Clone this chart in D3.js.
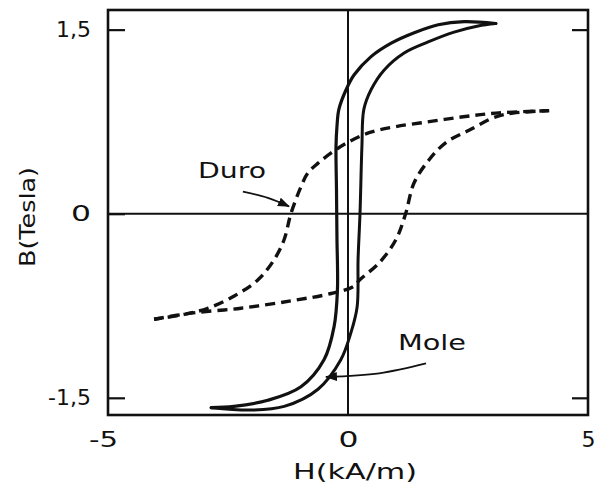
<!DOCTYPE html>
<html>
<head>
<meta charset="utf-8">
<script src="https://cdn.jsdelivr.net/npm/d3@7"></script>
<style>
  html, body { margin: 0; padding: 0; background: #fff; }
  svg { display: block; }
  text { font-family: "DejaVu Sans", sans-serif; fill: #111; }
</style>
</head>
<body>
<script>
// Hysteresis loops of a soft ("Mole") and a hard ("Duro") magnetic material.
// H in kA/m, B in tesla.

const xTicks = [-5, 0, 5];
const xTickLabels = ["-5", "0", "5"];
const yTicks = [-1.5, 0, 1.5];
const yTickLabels = ["-1,5", "0", "1,5"];

// Soft material: descending branch (from +saturation down to -saturation)
const moleDownH = [3.08, 2.42, 1.88, 1.38, 0.90, 0.48, 0.125, -0.04, -0.19, -0.23, -0.25, -0.24, -0.23, -0.22, -0.29, -0.50, -0.98, -1.67, -2.375, -2.85];
const moleDownB = [1.55, 1.565, 1.54, 1.475, 1.39, 1.28, 1.13, 1.01, 0.85, 0.71, 0.55, 0.20, -0.20, -0.62, -0.92, -1.19, -1.41, -1.52, -1.57, -1.58];
// Soft material: ascending branch (from -saturation back up to +saturation)
const moleUpH = [-2.85, -2.02, -1.33, -0.625, -0.15, 0.06, 0.19, 0.21, 0.25, 0.29, 0.33, 0.48, 0.75, 1.17, 1.67, 2.21, 2.71, 3.08];
const moleUpB = [-1.58, -1.60, -1.57, -1.43, -1.19, -0.97, -0.76, -0.37, 0.0, 0.55, 0.85, 1.01, 1.17, 1.31, 1.40, 1.48, 1.53, 1.55];

// Hard material: descending branch
const duroDownH = [4.19, 3.08, 2.40, 1.69, 1.00, 0.44, -0.01, -0.35, -0.63, -0.84, -0.98, -1.19, -1.33, -1.54, -1.88, -2.37, -2.92, -3.41, -4.04];
const duroDownB = [0.84, 0.82, 0.79, 0.75, 0.71, 0.66, 0.58, 0.495, 0.41, 0.33, 0.22, 0.0, -0.21, -0.375, -0.54, -0.67, -0.77, -0.82, -0.86];
// Hard material: ascending branch
const duroUpH = [-4.04, -3.27, -2.23, -1.19, -0.35, 0.125, 0.24, 0.65, 1.00, 1.20, 1.375, 1.69, 2.04, 2.52, 3.08, 3.44, 4.19];
const duroUpB = [-0.86, -0.81, -0.77, -0.71, -0.65, -0.59, -0.54, -0.40, -0.21, 0.0, 0.25, 0.44, 0.58, 0.68, 0.79, 0.82, 0.84];

// Annotation labels and their leader arrows (data coordinates)
const labels = [
  { text: "Duro", H: -3.125, B: 0.29,
    arrow: [[-2.19, 0.18], [-1.67, 0.13], [-1.23, 0.06]] },
  { text: "Mole", H: 1.04, B: -1.11,
    arrow: [[1.625, -1.22], [0.65, -1.30], [-0.46, -1.33]] }
];

const W = 595, H = 489;
const svg = d3.select("body").append("svg")
  .attr("width", W).attr("height", H)
  .attr("viewBox", `0 0 ${W} ${H}`);

svg.append("rect").attr("width", W).attr("height", H).attr("fill", "#fff");

const x = d3.scaleLinear().domain([-5, 5]).range([108, 588]);
const y = d3.scaleLinear().domain([-1.64, 1.66]).range([415, 10]);

const ink = "#111";

// arrowhead marker
svg.append("defs").append("marker")
  .attr("id", "head")
  .attr("markerUnits", "userSpaceOnUse")
  .attr("markerWidth", 12).attr("markerHeight", 9)
  .attr("refX", 11).attr("refY", 4.5)
  .attr("orient", "auto")
  .append("path").attr("d", "M0,0 L12,4.5 L0,9 Z").attr("fill", ink);

// zero lines
svg.append("line")
  .attr("x1", x(-5)).attr("x2", x(5)).attr("y1", y(0)).attr("y2", y(0))
  .attr("stroke", ink).attr("stroke-width", 2);
svg.append("line")
  .attr("x1", x(0)).attr("x2", x(0)).attr("y1", y.range()[0]).attr("y2", y.range()[1])
  .attr("stroke", ink).attr("stroke-width", 2);

// axes
const fmtY = d => yTickLabels[yTicks.indexOf(d)];
const fmtX = d => xTickLabels[xTicks.indexOf(d)];

const yAxisL = svg.append("g").attr("transform", `translate(${x(-5)},0)`)
  .call(d3.axisLeft(y).tickValues(yTicks).tickFormat(fmtY).tickSizeInner(-17).tickSizeOuter(0).tickPadding(17));
const yAxisR = svg.append("g").attr("transform", `translate(${x(5)},0)`)
  .call(d3.axisRight(y).tickValues([-1.5, 1.5]).tickFormat("").tickSizeInner(-16).tickSizeOuter(0));
const xAxis = svg.append("g").attr("transform", `translate(0,${y.range()[0]})`)
  .call(d3.axisBottom(x).tickValues(xTicks).tickFormat(fmtX).tickSize(0).tickPadding(16));

[yAxisL, yAxisR, xAxis].forEach(g => {
  g.select(".domain").remove();
  g.selectAll(".tick line").attr("stroke", ink).attr("stroke-width", 2.2);
  g.selectAll(".tick text")
    .attr("fill", ink)
    .style("font-family", "'DejaVu Sans', sans-serif")
    .style("font-size", "22px");
});
xAxis.selectAll(".tick text").filter(d => d === 0).attr("textLength", 20).attr("lengthAdjust", "spacingAndGlyphs");
xAxis.selectAll(".tick text").filter(d => d === -5)
  .attr("dx", -5).attr("textLength", 29).attr("lengthAdjust", "spacingAndGlyphs");
yAxisL.selectAll(".tick text").filter(d => d === 0).attr("textLength", 20).attr("lengthAdjust", "spacingAndGlyphs");

// frame
svg.append("rect")
  .attr("x", x(-5)).attr("y", y.range()[1])
  .attr("width", x(5) - x(-5)).attr("height", y.range()[0] - y.range()[1])
  .attr("fill", "none").attr("stroke", ink).attr("stroke-width", 2.6);

// axis titles
svg.append("text")
  .attr("x", x(0) + 7).attr("y", 479)
  .attr("text-anchor", "middle")
  .attr("textLength", 124).attr("lengthAdjust", "spacingAndGlyphs")
  .style("font-size", "22px")
  .text("H(kA/m)");
svg.append("text")
  .attr("transform", `translate(35,${217}) rotate(-90)`)
  .attr("text-anchor", "middle")
  .attr("textLength", 100).attr("lengthAdjust", "spacingAndGlyphs")
  .style("font-size", "22px")
  .text("B(Tesla)");

// curves
const zip = (hs, bs) => hs.map((h, i) => [h, bs[i]]);
const curve = d3.line().x(d => x(d[0])).y(d => y(d[1])).curve(d3.curveCatmullRom.alpha(0.5));

const loops = [
  { pts: zip(duroDownH, duroDownB), dash: "10,6", w: 3.4 },
  { pts: zip(duroUpH, duroUpB), dash: "10,6", w: 3.4 },
  { pts: zip(moleDownH, moleDownB), dash: null, w: 3.2 },
  { pts: zip(moleUpH, moleUpB), dash: null, w: 3.0 }
];
svg.append("g").selectAll("path").data(loops).join("path")
  .attr("d", d => curve(d.pts))
  .attr("fill", "none")
  .attr("stroke", ink)
  .attr("stroke-width", d => d.w)
  .attr("stroke-linecap", d => d.dash ? "butt" : "round")
  .attr("stroke-linejoin", "round")
  .attr("stroke-dasharray", d => d.dash);

// annotations
const arrowLine = d3.line().x(d => x(d[0])).y(d => y(d[1])).curve(d3.curveNatural);
const ann = svg.append("g").selectAll("g").data(labels).join("g");
ann.append("text")
  .attr("x", d => x(d.H)).attr("y", d => y(d.B))
  .attr("textLength", 68).attr("lengthAdjust", "spacingAndGlyphs")
  .style("font-size", "22px")
  .attr("fill", "#333")
  .text(d => d.text);
ann.append("path")
  .attr("d", d => arrowLine(d.arrow))
  .attr("fill", "none").attr("stroke", ink).attr("stroke-width", 1.8)
  .attr("marker-end", "url(#head)");
</script>
</body>
</html>
